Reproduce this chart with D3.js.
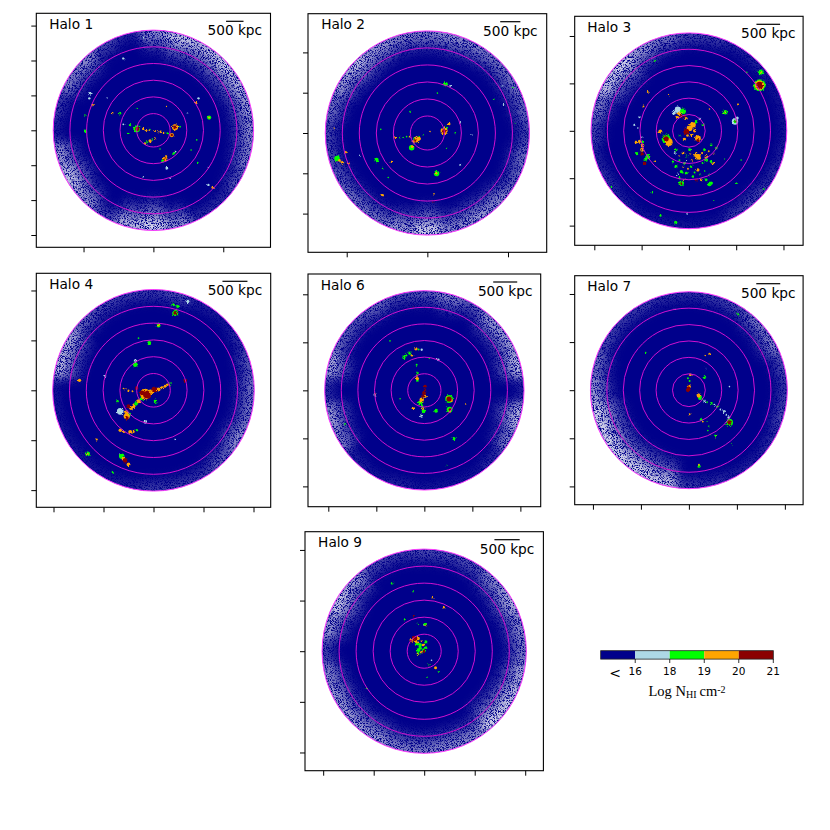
<!DOCTYPE html>
<html lang="en">
<head>
<meta charset="UTF-8" />
<title>HI column density maps</title>
<script src="https://cdnjs.cloudflare.com/ajax/libs/d3/7.8.5/d3.min.js"></script>
<style>
    body { margin: 0; background: #fff; }
    svg { display: block; }
    text { font-family: "DejaVu Sans", sans-serif; fill: #000; }
</style>
</head>
<body>
<script>
// each clump: x kpc, y kpc, radius kpc, log NHI
const halo1Clumps = [
    [-480,40,70,18.5],[-460,40,45,20.5],[-670,150,25,18.5],[-860,170,20,17],[-290,40,25,19.5],[-190,-20,20,19.5],[50,-20,20,19.5],[210,-40,25,19.5],[400,-85,20,18.5],
    [620,85,65,19.5],[620,85,40,20.5],[525,-135,45,19.5],[525,-135,25,20.5],[-95,-305,35,19.5],[-190,-345,25,18.5],[50,-230,20,19.5],[335,-820,50,19.5],[270,-880,35,18.5],[345,-800,20,20.5],
    [575,-660,30,18.5],[630,-610,22,17],[380,-1090,30,17],[-955,490,25,18.5],[-1165,490,20,19.5],[-1740,725,25,19.5],[-1815,1060,30,17],[-1835,915,25,17],[-1960,-20,30,18.5],
    [-860,2060,25,17],[-290,2655,18,17.5],[1290,915,25,17],[1215,800,25,19.5],[1595,365,45,18.5],[1595,365,20,19.5],[765,105,18,18.5],[975,490,15,17],[1700,-1640,30,19],[1575,-1565,25,17],
    [1575,-1060,15,17],[380,680,14,19],[-715,-85,18,18.5],[-1335,915,12,17],[1240,-275,10,18.5],[1080,-565,10,18.5],[190,-535,12,18.5],[1270,-925,14,18.5],[-290,-1330,12,17],[480,-1375,10,17],
    [-1960,440,12,18.5],[-480,630,12,18.5],
    [-120,0,15,19.5],[130,-40,15,19.5],[-100,20,14,18.5],[290,-60,15,19.5],[-230,-370,15,19.5],[-30,-250,15,18.5],[300,-850,20,20.5],[370,-740,20,19.5]
];
const halo2Clumps = [
    [415,50,65,19.5],[415,50,35,20.5],[455,115,30,18.5],[540,225,25,19.5],[-265,-160,55,19.5],[-350,-215,30,19.5],[-390,-365,50,18.5],[-380,-340,25,19.5],[-805,-115,25,19.5],[-680,-115,15,18.5],
    [-515,-90,15,18.5],[-100,-50,15,18.5],[65,35,15,19.5],[455,1210,40,18.5],[565,1170,20,17],[230,-1005,50,18.5],[230,-1005,20,19.5],[-2240,-630,50,18.5],[-2110,-730,25,19.5],[-2025,-475,22,19.5],
    [-1950,-755,20,19.5],[-1260,-670,40,18.5],[-890,-715,20,19.5],[-1110,-1545,25,19.5],[150,-1710,18,20],[165,-1510,14,19.5],[-970,-1105,14,18.5],[-1110,-880,12,18.5],[-2315,115,15,19.5],
    [815,255,14,17],[2180,255,14,18.5],[2125,1130,12,18.5],[1890,700,12,17],[250,990,14,18.5],[-430,530,12,18.5],[690,-10,14,18.5],[1105,-50,12,17],[815,-795,18,17],[-1675,-550,14,17],
    [-1155,90,12,18.5],[1645,840,10,18.5],[1850,1170,10,17],[480,-380,10,18.5],
    [-200,-140,30,19.5],[-300,-190,20,20],[-310,-130,25,18.5],[-440,-90,12,19.5],[-600,-110,12,18.5],[-200,-90,14,18.5],[410,20,14,20.5],[440,80,30,19.5],[-2180,-680,25,19.5]
];
const halo3Clumps = [
    [1495,960,95,18.5],[1495,960,75,19.5],[1495,960,55,20.5],[1525,1240,40,18.5],[1525,1240,15,19.5],[975,195,50,17],[975,200,30,18.5],[980,210,15,20.5],[1020,270,25,17],[770,390,35,18.5],[770,390,14,19.5],[1035,550,18,19.5],
    [-990,-400,30,19.5],[-985,-310,30,19.5],[-990,-490,28,20],[-975,-230,22,18.5],[-940,-685,28,20.5],[-1045,-225,25,19.5],[-1115,-240,22,19.5],[-870,-545,40,18.5],
    [-480,-170,70,18.5],[-425,-240,60,19.5],[-480,-170,40,20.5],[-605,-15,30,19.5],[-235,445,50,17],[-125,410,45,18.5],[-195,360,35,19.5],[-160,305,25,20.5],[-90,315,22,20.5],
    [-55,-15,45,20],[85,125,45,19.5],[155,195,25,18.5],[-55,5,25,20.5],[15,55,45,19.5],[190,-155,45,19.5],[190,-205,25,20.5],[295,125,20,18.5],
    [-270,-400,22,18.5],[-125,-470,22,19.5],[15,-400,22,18.5],[120,-510,25,19.5],[225,-580,22,19.5],[365,-545,25,19.5],[470,-650,22,18.5],[330,-400,22,18.5],[470,-295,22,18.5],[580,-365,20,18.5],
    [-90,-685,22,18.5],[50,-755,22,18.5],[190,-825,25,19.5],[-55,-895,22,18.5],[85,-965,20,18.5],[260,-1035,20,19.5],[-270,-755,25,18.5],[-160,-860,25,18.5],[365,-1035,22,18.5],[470,-1105,25,18.5],
    [-160,-1105,40,18.5],[-160,-1105,15,20.5],[155,-1040,22,20],[435,-1120,35,18.5],[190,-545,45,19.5],[505,-685,20,19.5],[365,-615,30,18.5],
    [-710,-650,18,19.5],[-870,820,15,19.5],[-960,515,14,19.5],[-1150,125,18,17],[-1045,290,18,17],[-425,740,14,19.5],[-280,-1930,25,18.5],[-600,-1790,18,18.5],[1015,-1105,14,18.5],[1585,-1225,12,18.5],
    [-775,-1305,12,18.5],[-35,-1755,10,17],[530,-1475,10,18.5],[-1640,-1175,8,18.5],[-725,1465,8,18.5],[1225,1235,8,18.5],[1105,-615,8,18.5],[755,-600,12,18.5],[435,460,10,19.5],
    [-200,-520,15,19.5],[-50,-540,15,18.5],[60,-620,15,19.5],[160,-480,18,19.5],[280,-470,18,19.5],[290,-680,15,18.5],[420,-430,15,19.5],[520,-480,14,19.5],[-20,-800,15,19.5],[120,-880,15,18.5],[240,-920,15,18.5],
    [-120,-760,15,19.5],[-200,-620,15,18.5],[-230,-920,15,17],[330,-850,14,18.5],[430,-920,14,18.5],[-340,-650,16,18.5],[-60,-620,14,17],[30,-480,14,19.5],[-300,-470,15,17],[-200,-1000,18,18.5],[-110,-1040,15,19.5],
    [-100,-180,25,19.5],[60,-80,25,19.5],[-30,-100,20,19.5],[120,0,25,19.5],[-200,-100,18,18.5],[230,250,18,17],[-1000,-130,14,17],[-1080,60,12,17],[-1100,-480,25,18.5],[-920,-600,25,18.5],[-240,280,25,19.5],[-60,260,25,19.5],[-320,380,30,17]
];
const halo4Clumps = [
    [-165,-75,80,19.5],[-135,-85,55,20.5],[15,15,40,20.5],[100,15,30,19.5],[235,80,22,19.5],[335,135,18,18.5],[-300,-220,30,19.5],[-400,-320,28,19.5],[-500,-320,30,20.5],[-535,-520,45,19.5],[-490,-485,30,18.5],[-530,-555,25,20.5],
    [-665,-420,50,17.5],[-335,45,25,20.5],[-500,-5,15,19.5],[-600,35,12,19.5],[35,-220,25,18.5],[-365,515,35,18.5],[-365,595,20,17],[-85,945,30,18.5],[100,1300,30,18.5],[100,1300,14,19.5],
    [435,1550,45,18.5],[435,1550,28,20.5],[400,1715,22,18],[485,1680,22,18],[685,1780,25,17],[635,195,25,20],[-965,285,16,17],[-1480,200,25,19.5],[-720,-220,18,18.5],[-465,-835,30,19.5],
    [-665,-800,25,19.5],[-335,-800,20,18.5],[-165,-635,25,17],[-635,-1320,40,18.5],[-565,-1405,35,20.5],[-500,-1485,28,19.5],[-1315,-1275,35,18.5],[-1315,-1275,14,19.5],[-1135,-985,16,19.5],
    [-815,-1640,16,18.5],[435,-985,12,17],[-300,1045,10,18.5],
    [-200,-140,30,19.5],[-250,-180,25,18.5],[-350,-270,28,18.5],[-450,-360,25,19.5],[-540,-440,30,19.5],[170,50,22,19.5],[280,110,18,19.5],[-60,-40,40,19.5],[-100,-120,35,20.5],[-230,-50,35,20.5],[-420,-20,14,19.5],[-560,20,12,19.5],[-590,-830,20,19.5],[-400,-830,18,19.5],[-600,-1370,28,19.5],[-660,-1290,22,17]
];
const halo6Clumps = [
    [15,85,25,20],[-5,-55,30,20.5],[-55,-195,35,19.5],[-90,-265,35,18.5],[-20,-435,30,18.5],[-55,-540,22,17.5],[15,-125,25,19.5],[-145,245,25,19.5],[-145,360,20,18.5],[-160,535,15,18.5],
    [-175,865,25,19.5],[-300,775,25,18.5],[-425,685,25,18.5],[-55,845,18,17],[290,635,20,17.5],[105,670,12,18.5],[515,-180,60,18.5],[515,-180,40,20],[525,-400,45,18.5],[535,-400,22,20.5],
    [245,-425,30,18.5],[-230,-375,25,19.5],[860,-285,12,19.5],[-1025,-90,25,17],[-1025,-90,12,20],[615,-1005,25,18.5],[-230,1710,10,20],[-1650,-715,8,18.5],[-715,1030,8,18.5],[-505,-175,10,18.5],[465,-1565,8,18.5],
    [10,10,20,20.5],[-30,-120,25,20],[-70,-230,22,19.5],[-40,-330,25,18.5],[-30,-380,20,19.5],[490,-160,25,19.5],[560,-210,25,19.5],[530,-440,18,19.5],[-260,730,18,19.5],[-380,730,18,18.5],[-120,850,15,18.5],[-150,300,15,19.5],[-145,200,20,18.5]
];
const halo7Clumps = [
    [0,75,30,19.5],[-15,20,35,20.5],[30,320,22,19.5],[-20,250,15,18.5],[210,-110,35,19.5],[235,-165,30,18.5],[325,-220,18,17],[465,-270,18,18.5],[600,-340,18,18.5],[720,-445,22,17],[830,-570,20,17],
    [845,-670,55,18.5],[845,-670,35,20],[255,-615,22,18.5],[415,-755,14,18.5],[555,-950,22,18.5],[15,-500,15,19.5],[210,-1580,25,18.5],[1030,1580,16,18.5],[-300,1685,12,17],[430,755,18,19],
    [325,270,25,18],[845,75,10,17],[-900,785,10,18.5],[360,450,10,17],[395,-840,10,18.5],[900,-1135,8,18.5],
    [-25,-10,22,20.5],[-10,50,25,20],[15,190,15,18.5],[270,-190,18,18.5],[380,-250,14,18.5],[530,-300,14,17],[660,-400,16,17],[780,-510,16,17],[290,-650,14,19.5],[540,-970,12,19.5],[440,-920,12,18.5],[380,-640,10,18.5],[210,-1550,15,19.5],[340,720,8,19.5]
];
const halo9Clumps = [
    [-150,150,30,18.5],[-250,220,30,19.5],[-120,250,25,19.5],[-185,250,35,20.5],[-5,20,30,18.5],[-5,0,18,20.5],[-120,20,30,18.5],[-85,120,30,18.5],[30,185,25,18],[-20,120,20,19],
    [15,530,22,18.5],[-120,530,12,18],[225,-325,22,19.5],[280,-410,12,18.5],[60,-510,10,18.5],[390,865,16,19.5],[165,1050,14,19],[-205,700,14,20],[-385,625,14,18.5],[-635,1340,18,18.5],
    [-220,1175,8,18],[-1140,-740,8,18],[145,-180,10,17],
    [-260,200,20,20],[-170,200,25,19.5],[-120,170,15,19.5],[-80,60,25,18.5],[-60,-30,20,19],[-120,-50,20,18.5],[40,70,20,18.5],[-50,200,15,19.5],[-190,280,18,20.5],[40,510,14,19.5],[-20,520,8,17],[90,-280,8,18],[-130,-50,15,19.5]
];

// how far the outskirts thin out, every 15 degrees clockwise from the top
const halo1Thinning = [.55,.75,.7,.75,.7,.6,.55,.5,.35,.2,.2,.55,.85,.7,.3,.6,.75,.6,.15,.25,.5,.55,.3,.15];
const halo2Thinning = [.5,.55,.5,.45,.45,.4,.3,.45,.4,.55,.6,.55,.8,.6,.45,.45,.4,.3,.3,.45,.6,.7,.6,.5];
const halo3Thinning = [.3,.25,.15,.15,.1,.1,.1,.15,.2,.3,.25,.1,.1,.1,.1,.15,.2,.15,.3,.5,.75,.8,.6,.45];
const halo4Thinning = [.25,.3,.15,.1,.2,.35,.45,.45,.55,.4,.25,.25,.25,.15,.1,.1,.1,.1,.1,.7,.65,.4,.3,.25];
const halo6Thinning = [.35,.5,.35,.6,.6,.7,.15,.7,.5,.2,.1,.1,.1,.15,.1,.15,.5,.6,.2,.65,.4,.35,.4,.3];
const halo7Thinning = [.2,.25,.3,.45,.5,.3,.25,.3,.2,.15,.15,.2,.25,.75,.8,.8,.85,.85,.6,.45,.3,.25,.25,.2];
const halo9Thinning = [.3,.3,.35,.55,.65,.55,.5,.65,.75,.8,.55,.55,.5,.5,.6,.6,.6,.55,.3,.6,.75,.6,.3,.25];

const haloNames = ['Halo 1', 'Halo 2', 'Halo 3', 'Halo 4', 'Halo 6', 'Halo 7', 'Halo 9'];
const haloClumps = [halo1Clumps, halo2Clumps, halo3Clumps, halo4Clumps, halo6Clumps, halo7Clumps, halo9Clumps];
const haloThinning = [halo1Thinning, halo2Thinning, halo3Thinning, halo4Thinning, halo6Thinning, halo7Thinning, halo9Thinning];
const ringStep = [478, 422, 345, 336, 346, 342, 337];      // kpc between rings
const halfSpan = [3352, 2960, 2415, 2344, 2423, 2380, 2360]; // kpc, centre to frame

const xTicksWide = [-2000, 0, 2000];
const xTicksNarrow = [-2000, -1000, 0, 1000, 2000];
const yTicksTall = [-3000, -2000, -1000, 0, 1000, 2000, 3000];
const xTicks = [xTicksWide, xTicksWide, xTicksNarrow, xTicksNarrow, xTicksNarrow, xTicksNarrow, xTicksNarrow];
const yTicks = [yTicksTall, xTicksNarrow, xTicksNarrow, xTicksNarrow, xTicksNarrow, xTicksNarrow, xTicksNarrow];

const nhiEdges = [16, 18, 19, 20];
const nhiColors = ['#00008b', '#add8e6', '#00ff00', '#ffa500', '#8b0000'];
const barLabels = ['<', '16', '18', '19', '20', '21'];

// frame of each panel on the page
const frames = [
    [36.3, 13.3, 234.2, 234],
    [308, 13.7, 238.7, 238.6],
    [574.7, 16.3, 228.4, 229],
    [36.3, 273.3, 234.4, 234],
    [308, 274, 232.7, 232.7],
    [574.7, 275.7, 228.4, 229],
    [305, 531.7, 238.4, 239]
];

const color = d3.scaleThreshold().domain(nhiEdges).range(nhiColors);

const svg = d3.select('body').append('svg').attr('width', 830).attr('height', 830);
const defs = svg.append('defs');

haloNames.forEach((name, h) => {
    const [left, top, w, ht] = frames[h];
    const x = d3.scaleLinear().domain([-halfSpan[h], halfSpan[h]]).range([left, left + w]);
    const y = d3.scaleLinear().domain([-halfSpan[h], halfSpan[h]]).range([top + ht, top]);
    const len = d => x(d) - x(0);
    const cx = x(0), cy = y(0);
    const rings = d3.range(1, 7).map(i => i * ringStep[h]);
    const R = len(rings[5]);

    const g = svg.append('g');

    g.append('circle').attr('cx', cx).attr('cy', cy).attr('r', R).attr('fill', nhiColors[0]);

    // outskirts: white wedges, broken up into speckle by the filter
    defs.append('clipPath').attr('id', `disc${h}`)
        .append('circle').attr('cx', cx).attr('cy', cy).attr('r', R);
    const f = defs.append('filter').attr('id', `speck${h}`)
        .attr('filterUnits', 'userSpaceOnUse')
        .attr('x', left).attr('y', top).attr('width', w).attr('height', ht)
        .attr('color-interpolation-filters', 'sRGB');
    f.append('feGaussianBlur').attr('in', 'SourceGraphic').attr('stdDeviation', 4).attr('result', 'soft');
    f.append('feTurbulence').attr('type', 'fractalNoise').attr('baseFrequency', 1.4)
        .attr('numOctaves', 3).attr('seed', h + 3).attr('result', 'noise');
    f.append('feColorMatrix').attr('in', 'noise').attr('type', 'matrix')
        .attr('values', '0 0 0 0 1  0 0 0 0 1  0 0 0 0 1  5 0 0 0 -1.7').attr('result', 'grain');
    f.append('feComposite').attr('in', 'soft').attr('in2', 'grain').attr('operator', 'in');

    const arc = d3.arc().innerRadius(0).outerRadius(R * 1.03);
    const step = Math.PI / 12;
    const fade = g.append('g').attr('clip-path', `url(#disc${h})`)
        .append('g').attr('filter', `url(#speck${h})`)
        .append('g').attr('transform', `translate(${cx},${cy})`);
    haloThinning[h].forEach((s, i) => {
        const id = `fade${h}_${i}`;
        // the gradient lives in the wedge's translated space, so it is centred on 0,0
        const grad = defs.append('radialGradient').attr('id', id)
            .attr('gradientUnits', 'userSpaceOnUse')
            .attr('cx', 0).attr('cy', 0).attr('r', R);
        const start = (5.5 - 2 * s) / 6;
        grad.append('stop').attr('offset', start).attr('stop-color', '#fff').attr('stop-opacity', 0);
        grad.append('stop').attr('offset', (start + 1) / 2).attr('stop-color', '#fff').attr('stop-opacity', s * 0.5);
        grad.append('stop').attr('offset', 1).attr('stop-color', '#fff').attr('stop-opacity', Math.min(1, s * 1.25));
        fade.append('path')
            .attr('d', arc({ startAngle: i * step - step / 2, endAngle: i * step + step / 2 }))
            .attr('fill', `url(#${id})`);
    });

    // clumps, shaken up by noise so they break into grains instead of clean discs
    const rough = defs.append('filter').attr('id', `rough${h}`)
        .attr('filterUnits', 'userSpaceOnUse')
        .attr('x', left).attr('y', top).attr('width', w).attr('height', ht);
    rough.append('feTurbulence').attr('type', 'fractalNoise').attr('baseFrequency', 0.9)
        .attr('numOctaves', 2).attr('seed', h + 11).attr('result', 'n');
    rough.append('feDisplacementMap').attr('in', 'SourceGraphic').attr('in2', 'n')
        .attr('scale', 3).attr('xChannelSelector', 'R').attr('yChannelSelector', 'G');

    g.append('g').attr('filter', `url(#rough${h})`)
        .selectAll('circle')
        .data(haloClumps[h].slice().sort((a, b) => a[3] - b[3]))
        .join('circle')
        .attr('cx', d => x(d[0]))
        .attr('cy', d => y(d[1]))
        .attr('r', d => Math.max(len(d[2]) * 1.35, 0.8))
        .attr('fill', d => color(d[3]));

    g.append('g').selectAll('circle')
        .data(rings)
        .join('circle')
        .attr('cx', cx)
        .attr('cy', cy)
        .attr('r', d => len(d))
        .attr('fill', 'none')
        .attr('stroke', (d, i) => i === 5 ? '#ff3cff' : '#d010d0')
        .attr('stroke-width', 1);

    g.append('rect').attr('x', left).attr('y', top).attr('width', w).attr('height', ht)
        .attr('fill', 'none').attr('stroke', '#000').attr('stroke-width', 1.1);

    const xAxis = g.append('g').attr('transform', `translate(0,${top + ht})`)
        .call(d3.axisBottom(x).tickValues(xTicks[h]).tickSize(5).tickFormat(''));
    const yAxis = g.append('g').attr('transform', `translate(${left},0)`)
        .call(d3.axisLeft(y).tickValues(yTicks[h]).tickSize(5).tickFormat(''));
    xAxis.select('.domain').remove();
    yAxis.select('.domain').remove();
    g.selectAll('.tick line').attr('stroke', '#000').attr('stroke-width', 1);

    g.append('text').attr('x', left + w * 0.055).attr('y', top + 15.6)
        .attr('font-size', 13.7).text(name);

    const barMid = x(halfSpan[h] * 0.695);
    g.append('text').attr('x', barMid).attr('y', top + 22)
        .attr('text-anchor', 'middle').attr('font-size', 13.7).text('500 kpc');
    g.append('line')
        .attr('x1', barMid - len(250)).attr('x2', barMid + len(250))
        .attr('y1', top + 8).attr('y2', top + 8)
        .attr('stroke', '#000').attr('stroke-width', 1.2);
});

// colour bar
const barX = d3.scalePoint().domain(barLabels).range([600.7, 773.3]);
const bar = svg.append('g');
bar.selectAll('rect')
    .data(nhiColors)
    .join('rect')
    .attr('x', (d, i) => barX(barLabels[i]))
    .attr('y', 650.7)
    .attr('width', barX.step())
    .attr('height', 8.4)
    .attr('fill', d => d);
bar.append('rect').attr('x', 600.7).attr('y', 650.7).attr('width', 172.6).attr('height', 8.4)
    .attr('fill', 'none').attr('stroke', '#222').attr('stroke-width', 0.8);
bar.selectAll('line')
    .data(barLabels.slice(1))
    .join('line')
    .attr('x1', d => barX(d)).attr('x2', d => barX(d))
    .attr('y1', 659).attr('y2', 663)
    .attr('stroke', '#000').attr('stroke-width', 0.8);
bar.selectAll('text.tick')
    .data(barLabels)
    .join('text')
    .attr('class', 'tick')
    .attr('x', (d, i) => i === 0 ? 615 : barX(d))
    .attr('y', (d, i) => i === 0 ? 678 : 675)
    .attr('text-anchor', 'middle')
    .attr('font-size', (d, i) => i === 0 ? 14 : 10.5)
    .text(d => d);

const title = bar.append('text')
    .attr('x', 687).attr('y', 696)
    .attr('text-anchor', 'middle')
    .style('font-family', '"Liberation Serif", serif')
    .attr('font-size', 14.5);
title.append('tspan').text('Log N');
title.append('tspan').attr('font-size', 10).attr('dy', 2).text('HI');
title.append('tspan').attr('dy', -2).attr('dx', 3).text('cm');
title.append('tspan').attr('font-size', 10).attr('dy', -3).text('-2');
</script>
</body>
</html>
